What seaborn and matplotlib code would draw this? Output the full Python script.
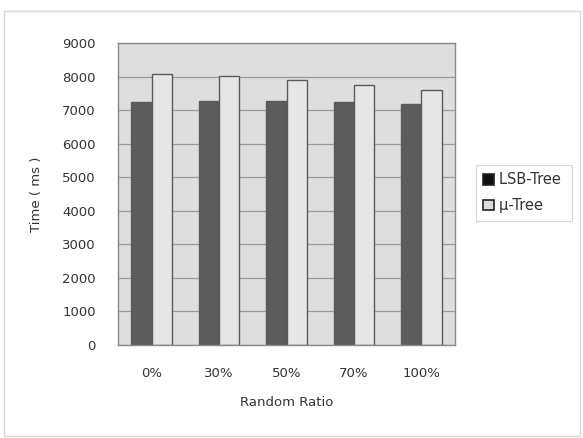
import matplotlib
matplotlib.use("Agg")
import matplotlib.pyplot as plt
from matplotlib.patches import Rectangle
import seaborn as sns
import pandas as pd

# Query time per random ratio for the two index structures
ratios = ["0%", "30%", "50%", "70%", "100%"]
lsb_tree = [7230, 7260, 7280, 7230, 7180]
mu_tree = [8070, 8010, 7910, 7760, 7600]
series = ["LSB-Tree", "\u03bc-Tree"]

df = pd.DataFrame({
    "ratio": ratios * 2,
    "time": lsb_tree + mu_tree,
    "tree": [series[0]] * len(ratios) + [series[1]] * len(ratios),
})

sns.set_theme(style="white")
plt.rcParams["font.family"] = ["DejaVu Sans"]

fig = plt.figure(figsize=(5.83, 4.38), dpi=100)
ax = fig.add_axes([118 / 583, 1 - 345 / 438, (455 - 118) / 583, (345 - 43) / 438])

# faint outer frame around the whole chart
fig.patches.append(Rectangle((4 / 583, 2 / 438), 576 / 583, 425 / 438,
                             transform=fig.transFigure, fill=False,
                             edgecolor="#d8d8d8", linewidth=1.0))

ax.set_facecolor("#dedede")
palette = {series[0]: "#5c5c5c", series[1]: "#e6e6e6"}
sns.barplot(data=df, x="ratio", y="time", hue="tree", order=ratios,
            hue_order=series, palette=palette, width=0.6, ax=ax,
            edgecolor="#5a5a5a", linewidth=1.0, saturation=1, legend=False)

ax.set_ylim(0, 9000)
ax.set_yticks(range(0, 9001, 1000))
ax.yaxis.grid(True, color="#9a9a9a", linewidth=0.9)
ax.set_axisbelow(True)
for side, sp in ax.spines.items():
    sp.set_color("#8a8a8a")
    sp.set_linewidth(1.0)

fs = 9.5
ax.tick_params(axis="y", labelsize=fs, colors="#333333", length=0, pad=16)
ax.tick_params(axis="x", labelsize=fs, colors="#333333", length=0, pad=16)
ax.set_xlabel("Random Ratio", fontsize=fs, color="#333333", labelpad=11)
ax.set_ylabel("Time ( ms )", fontsize=fs, color="#333333", labelpad=14)

handles = [Rectangle((0, 0), 1, 1, facecolor=c, edgecolor="#222222",
                     linewidth=1.2) for c in ("#111111", "#dcdcdc")]
leg = fig.legend(handles, series, loc="upper left",
                 bbox_to_anchor=(476 / 583, 1 - 165 / 438),
                 frameon=True, fancybox=False, fontsize=10.5,
                 handlelength=0.75, handleheight=0.75, handletextpad=0.3,
                 borderpad=0.5, labelspacing=0.75, borderaxespad=0)
leg.get_frame().set_edgecolor("#cfcfcf")
leg.get_frame().set_linewidth(0.8)
for t in leg.get_texts():
    t.set_color("#333333")
    t.set_text(t.get_text() + " ")

fig.savefig("out.png", dpi=100)
